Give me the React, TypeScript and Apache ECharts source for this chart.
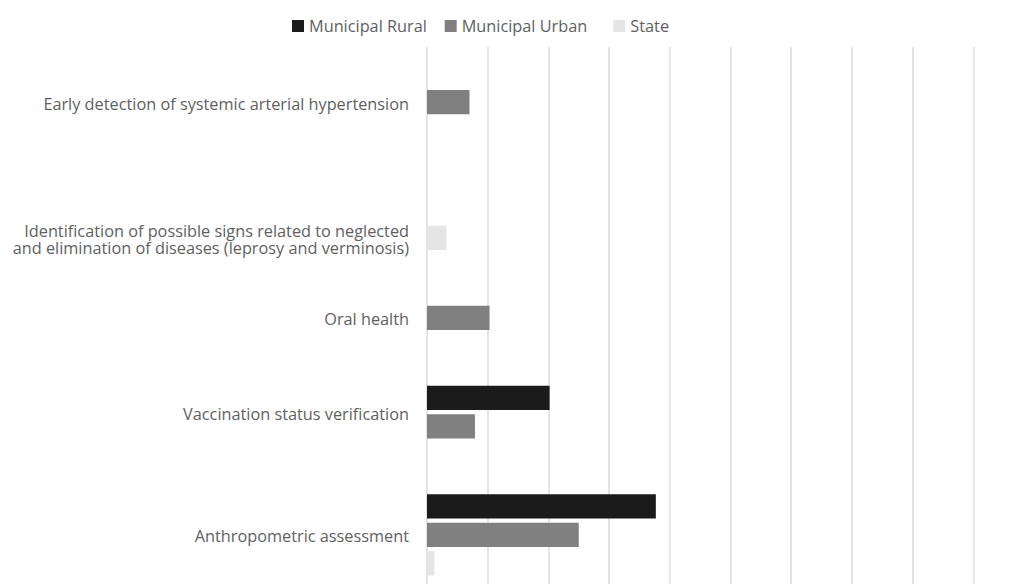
import React, { useEffect, useRef } from "react";
import * as echarts from "echarts";

// Categories listed from top to bottom ("" = an empty category, no bars)
const categories: string[] = [
  "Early detection of systemic arterial hypertension",
  "",
  "Identification of possible signs related to neglected\nand elimination of diseases (leprosy and verminosis)",
  "Oral health",
  "Vaccination status verification",
  "Anthropometric assessment",
];
const seriesNames: string[] = ["Municipal Rural", "Municipal Urban", "State"];
const municipalRural: (number | null)[] = [null, null, null, null, 2.02, 3.77];
const municipalUrban: (number | null)[] = [0.7, null, null, 1.03, 0.79, 2.5];
const stateValues: (number | null)[] = [null, null, 0.32, null, null, 0.12];
const xTicks: number[] = [0, 1, 2, 3, 4, 5, 6, 7, 8, 9, 10, 11];

const COLORS = ["#1b1b1b", "#808080", "#e5e5e5"];
const FONT = "'Open Sans', Lato, sans-serif";
const TEXT_COLOR = "#5f5f5f";
const FONT_SIZE = 16.3;

// layout (in pixels of the plot area, measured from its top)
const BAR = 24.3;
const INNER = 4.2;
const GAP = 55.7;
const TOP_PAD = 43;
const PLOT_H = 560;

function buildLayout() {
  const all = [municipalRural, municipalUrban, stateValues];
  const barData: [number, number][][] = [[], [], []];
  const labelData: [number, number, number][] = [];
  let cursor = TOP_PAD;
  categories.forEach((_, i) => {
    const start = cursor;
    let end = cursor;
    let placed = 0;
    all.forEach((arr, s) => {
      const v = arr[i];
      if (v === null || v === undefined) return;
      if (placed > 0) cursor += INNER;
      barData[s].push([v, cursor + BAR / 2]);
      cursor += BAR;
      end = cursor;
      placed++;
    });
    if (placed > 0) labelData.push([0, (start + end) / 2, i]);
    cursor = end + GAP;
  });
  return { barData, labelData };
}

export default function App() {
  const ref = useRef<HTMLDivElement>(null);
  useEffect(() => {
    if (!ref.current) return;
    const chart = echarts.init(ref.current, undefined, { renderer: "svg" });
    const { barData, labelData } = buildLayout();

    const barSeries = seriesNames.map((name, s) => ({
      type: "custom",
      name,
      data: barData[s],
      encode: { x: 0, y: 1 },
      itemStyle: { color: COLORS[s] },
      renderItem: (params: any, api: any) => {
        const v = api.value(0);
        const y = api.value(1);
        const p0 = api.coord([0, y]);
        const p1 = api.coord([v, y]);
        const h = api.size([0, BAR])[1];
        return {
          type: "rect",
          shape: { x: p0[0], y: p0[1] - h / 2, width: p1[0] - p0[0], height: h },
          style: api.style(),
        };
      },
    }));

    const labelSeries = {
      type: "custom",
      name: "labels",
      silent: true,
      data: labelData,
      encode: { x: 0, y: 1 },
      renderItem: (params: any, api: any) => {
        const p = api.coord([0, api.value(1)]);
        const idx = api.value(2);
        return {
          type: "text",
          x: p[0] - 18,
          y: p[1] + 1.5,
          style: {
            text: categories[idx],
            align: "right",
            verticalAlign: "middle",
            fill: TEXT_COLOR,
            fontSize: FONT_SIZE,
            fontFamily: FONT,
            lineHeight: 17,
          },
        };
      },
    };

    const legendLefts = [292, 444.7, 613.3];
    const option: any = {
      animation: false,
      legend: seriesNames.map((name, s) => ({
        data: [{ name, icon: "rect" }],
        left: legendLefts[s],
        top: 18,
        itemWidth: 12,
        itemHeight: 12,
        padding: 0,
        selectedMode: false,
        textStyle: { fontSize: FONT_SIZE, color: TEXT_COLOR, fontFamily: FONT },
      })),
      grid: { left: 427, top: 47, width: 60.7 * (xTicks.length - 1), height: PLOT_H },
      xAxis: {
        type: "value",
        min: xTicks[0],
        max: xTicks[xTicks.length - 1],
        interval: 1,
        axisLine: { show: false },
        axisTick: { show: false },
        axisLabel: { show: false },
        splitLine: { show: true, lineStyle: { color: "#e4e4e4", width: 2 } },
      },
      yAxis: {
        type: "value",
        min: 0,
        max: PLOT_H,
        inverse: true,
        show: false,
        splitLine: { show: false },
      },
      series: [...barSeries, labelSeries],
    };
    chart.setOption(option);
    return () => chart.dispose();
  }, []);
  return (
    <div
      ref={ref}
      style={{ position: "fixed", left: 0, top: 0, width: 1100, height: 620, background: "#fff" }}
    />
  );
}
